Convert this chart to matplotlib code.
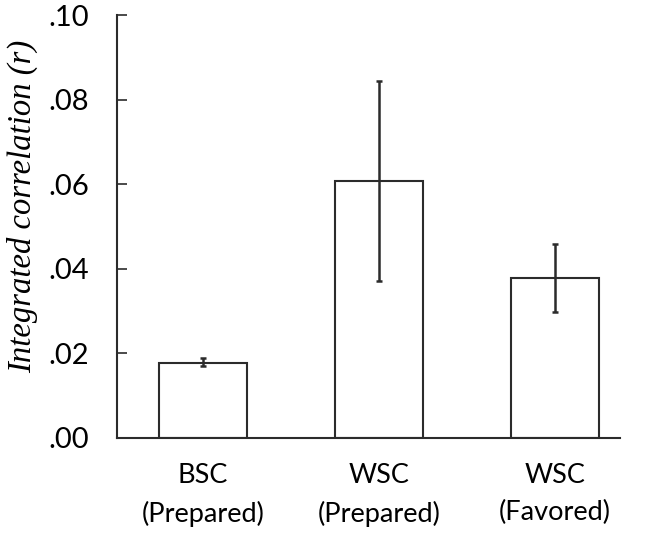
import matplotlib
matplotlib.use("Agg")
import matplotlib.pyplot as plt
import numpy as np

categories = ["BSC\n(Prepared)", "WSC\n(Prepared)", "WSC\n(Favored)"]
values = [0.0178, 0.0608, 0.0378]
err_low = [0.0171, 0.0371, 0.0297]
err_high = [0.0188, 0.0843, 0.0459]
yticks = [0.00, 0.02, 0.04, 0.06, 0.08, 0.10]
ytick_labels = [".00", ".02", ".04", ".06", ".08", ".10"]

fig = plt.figure(figsize=(6.45, 5.36), dpi=100)
ax = fig.add_axes([0.181, 0.183, 0.780, 0.789])

x = np.arange(len(categories))
col = "#2b2b2b"
ax.bar(x, values, width=0.5, color="white", edgecolor=col, linewidth=1.5, zorder=2)
yerr = [np.array(values) - np.array(err_low), np.array(err_high) - np.array(values)]
ax.errorbar(x, values, yerr=yerr, fmt="none", ecolor=col, elinewidth=1.8,
            capsize=2.5, capthick=1.8, zorder=3)

ax.set_xlim(-0.49, 2.37)
ax.set_ylim(0, 0.10)
ax.set_yticks(yticks)
ax.set_yticklabels(ytick_labels, fontfamily="Lato", fontsize=21)
ax.set_xticks(x)
ax.set_xticklabels(categories, fontfamily="Lato", fontsize=19.5, linespacing=1.6)
ax.tick_params(axis="x", length=0, pad=18)
ax.tick_params(axis="y", direction="in", length=7, width=1.2, color=col, pad=20)

for s in ["top", "right"]:
    ax.spines[s].set_visible(False)
for s in ["left", "bottom"]:
    ax.spines[s].set_color(col)
    ax.spines[s].set_linewidth(1.5)

ax.set_ylabel("Integrated correlation (r)", fontfamily="Liberation Serif",
              fontstyle="italic", fontsize=23.5)
ax.yaxis.set_label_coords(-0.157, 0.548)

fig.savefig("out.png", dpi=100)
